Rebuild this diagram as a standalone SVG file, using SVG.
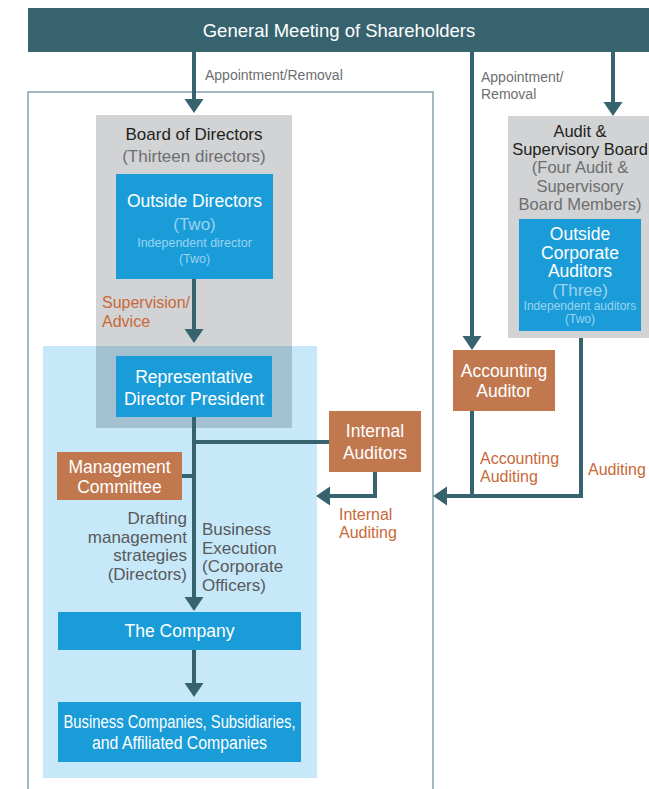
<svg xmlns="http://www.w3.org/2000/svg" width="649" height="789" viewBox="0 0 649 789">
<defs>
<style>
text{font-family:"Liberation Sans",Arial,sans-serif;}
.w{fill:#ffffff;font-size:17.5px;text-anchor:middle;}
.lt{fill:#9ad4f0;text-anchor:middle;}
.dk{fill:#231f20;font-size:17px;text-anchor:middle;}
.gr{fill:#6d6e71;font-size:17px;text-anchor:middle;}
.ab{font-size:16.5px;}
.lab{fill:#6d6e71;font-size:14px;}
.or{fill:#c8693a;font-size:16px;}
.dg{fill:#58595b;font-size:17px;}
.blue{fill:#1a9cd8;}
.org{fill:#c1784f;}
.gray{fill:#d1d3d4;}
.conn{fill:none;stroke:#37636f;stroke-width:4;}
</style>
<marker id="ah" markerUnits="userSpaceOnUse" markerWidth="15" markerHeight="20" refX="1" refY="9.5" orient="auto" viewBox="0 0 15 19">
<path d="M0,0 L14,9.5 L0,19 z" fill="#37636f"/>
</marker>
</defs>

<g id="frame">
<rect x="28" y="92" width="405" height="720" fill="none" stroke="#a2b9c2" stroke-width="2"/>
</g>

<g id="execution-area">
<rect x="43" y="346" width="274" height="432" fill="#c6e8f8"/>
</g>

<g id="board-of-directors">
<rect class="gray" x="96" y="115" width="196" height="313"/>
<rect x="96" y="346" width="196" height="82" fill="#a4c1d2"/>
<text class="dk" x="194" y="140">Board of Directors</text>
<text class="gr" x="194" y="162">(Thirteen directors)</text>
</g>

<g id="audit-board">
<rect class="gray" x="508" y="116" width="150" height="222"/>
<text class="dk ab" x="580" y="137">Audit &amp;</text>
<text class="dk ab" x="580" y="155">Supervisory Board</text>
<text class="gr ab" x="580" y="173">(Four Audit &amp;</text>
<text class="gr ab" x="580" y="192">Supervisory</text>
<text class="gr ab" x="580" y="210">Board Members)</text>
</g>

<g id="connectors">
<path class="conn" d="M194,52 V100" marker-end="url(#ah)"/>
<path class="conn" d="M613,52 V103" marker-end="url(#ah)"/>
<path class="conn" d="M472,52 V337" marker-end="url(#ah)"/>
<path class="conn" d="M194,279 V330" marker-end="url(#ah)"/>
<path class="conn" d="M194,417 V598" marker-end="url(#ah)"/>
<path class="conn" d="M194,650 V684" marker-end="url(#ah)"/>
<path class="conn" d="M375,472 V496 H329" marker-end="url(#ah)"/>
<path class="conn" d="M581,338 V496 H446" marker-end="url(#ah)"/>
<path class="conn" d="M472,411 V496"/>
<path class="conn" d="M194,442 H330"/>
<path class="conn" d="M182,476 H194"/>
</g>

<g id="general-meeting">
<rect x="28" y="8" width="621" height="44" fill="#37636f"/>
<text x="339" y="37" fill="#ffffff" font-size="18.5" text-anchor="middle">General Meeting of Shareholders</text>
</g>

<g id="labels">
<text class="lab" x="205" y="80">Appointment/Removal</text>
<text class="lab" x="481" y="82">Appointment/</text>
<text class="lab" x="481" y="99">Removal</text>
<text class="or" x="102" y="308">Supervision/</text>
<text class="or" x="102" y="327">Advice</text>
<text class="dg" x="187" y="524" text-anchor="end">Drafting</text>
<text class="dg" x="187" y="542.5" text-anchor="end">management</text>
<text class="dg" x="187" y="561" text-anchor="end">strategies</text>
<text class="dg" x="187" y="579.5" text-anchor="end">(Directors)</text>
<text class="dg" x="202" y="535">Business</text>
<text class="dg" x="202" y="553.5">Execution</text>
<text class="dg" x="202" y="572">(Corporate</text>
<text class="dg" x="202" y="590.5">Officers)</text>
<text class="or" x="339" y="520">Internal</text>
<text class="or" x="339" y="538">Auditing</text>
<text class="or" x="480" y="464">Accounting</text>
<text class="or" x="480" y="482">Auditing</text>
<text class="or" x="588" y="475">Auditing</text>
</g>

<g id="outside-directors">
<rect class="blue" x="116" y="174" width="157" height="105"/>
<text class="w" x="194.5" y="207">Outside Directors</text>
<text class="lt" x="194.5" y="230" font-size="17">(Two)</text>
<text class="lt" x="194.5" y="247" font-size="12.5">Independent director</text>
<text class="lt" x="194.5" y="263" font-size="12.5">(Two)</text>
</g>

<g id="outside-auditors">
<rect class="blue" x="519" y="219" width="122" height="112"/>
<text class="w" x="580" y="240">Outside</text>
<text class="w" x="580" y="258.5">Corporate</text>
<text class="w" x="580" y="277">Auditors</text>
<text class="lt" x="580" y="296" font-size="17">(Three)</text>
<text class="lt" x="580" y="310" font-size="12">Independent auditors</text>
<text class="lt" x="580" y="323" font-size="12">(Two)</text>
</g>

<g id="representative-director">
<rect class="blue" x="116" y="356" width="156" height="61"/>
<text class="w" x="194" y="383">Representative</text>
<text class="w" x="194" y="405">Director President</text>
</g>

<g id="internal-auditors">
<rect class="org" x="329" y="411" width="92" height="61"/>
<text class="w" x="375" y="437">Internal</text>
<text class="w" x="375" y="459">Auditors</text>
</g>

<g id="management-committee">
<rect class="org" x="57" y="452" width="125" height="48"/>
<text class="w" x="119.5" y="473">Management</text>
<text class="w" x="119.5" y="493">Committee</text>
</g>

<g id="accounting-auditor">
<rect class="org" x="453" y="350" width="102" height="61"/>
<text class="w" x="504" y="377">Accounting</text>
<text class="w" x="504" y="397">Auditor</text>
</g>

<g id="the-company">
<rect class="blue" x="58" y="612" width="243" height="38"/>
<text class="w" x="179.5" y="637">The Company</text>
</g>

<g id="group-companies">
<rect class="blue" x="58" y="702" width="243" height="60"/>
<text class="w" x="179.5" y="728" font-size="15" textLength="232" lengthAdjust="spacingAndGlyphs">Business Companies, Subsidiaries,</text>
<text class="w" x="179.5" y="749" font-size="15" textLength="175" lengthAdjust="spacingAndGlyphs">and Affiliated Companies</text>
</g>
</svg>
